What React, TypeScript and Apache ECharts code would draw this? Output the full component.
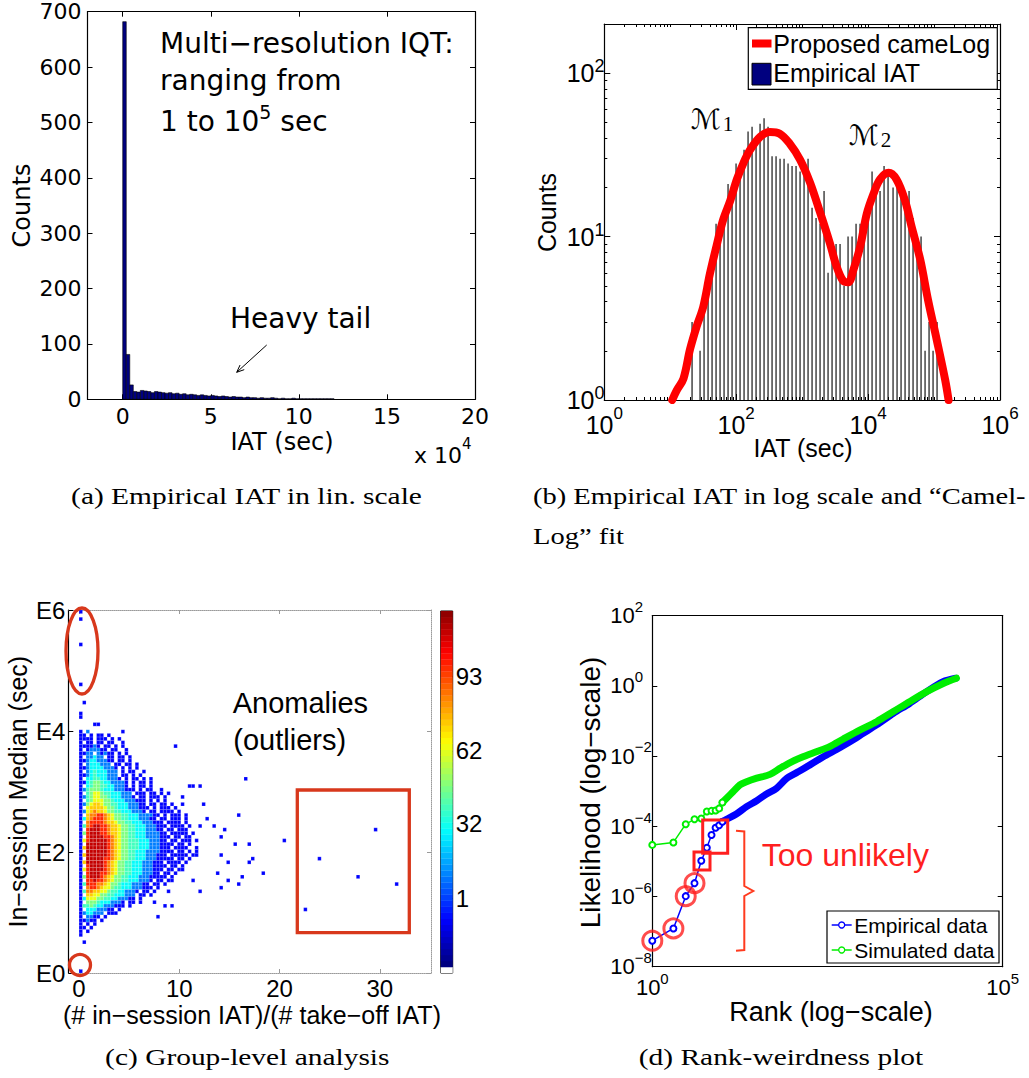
import React, { useEffect, useRef } from 'react';
import * as echarts from 'echarts';

// ---------- (a) inter-arrival times, linear bins (x unit: 10^4 sec) ----------
const linBinWidth = 0.2;
const linCounts = [682, 81, 26, 14, 13, 16, 15, 14, 12, 14, 13, 12, 11, 12, 10, 11, 9, 10, 8, 9, 8, 7, 8, 7, 6, 7, 6, 5, 6, 5, 4, 5, 4, 4, 3, 4, 3, 3, 2, 3, 2, 2, 3, 2, 1, 2, 1, 1, 2, 1, 1, 1, 1, 1, 1, 1, 1, 1, 1, 1];
const linIatTicks = [0, 5, 10, 15, 20];
const linCountTicks = [0, 100, 200, 300, 400, 500, 600, 700];

// ---------- (b) inter-arrival times, log-spaced bins + CamelLog fit ----------
const logBinFirstCenter = 1.33; // log10(sec)
const logBinWidth = 0.0608;
const logCounts = [3, 1, 2, 4, 5, 8, 12, 12, 14, 21, 20, 28, 28, 34, 44, 47, 41, 49, 53, 47, 31, 31, 30, 30, 28, 27, 27, 25, 24, 30, 15, 13, 12, 19, 6, 8, 9, 9, 5, 10, 10, 12, 12, 14, 16, 25, 21, 19, 27, 24, 20, 21, 18, 17, 19, 13, 9, 10, 2, 3, 2, 3];
const fitLogIat = [1.03, 1.1, 1.2, 1.3, 1.4, 1.5, 1.6, 1.7, 1.8, 1.91, 2.01, 2.11, 2.21, 2.36, 2.51, 2.66, 2.81, 2.97, 3.12, 3.27, 3.42, 3.52, 3.62, 3.7, 3.78, 3.88, 3.98, 4.08, 4.18, 4.31, 4.43, 4.56, 4.66, 4.79, 4.91, 5.04, 5.17, 5.22];
const fitLogCount = [0, 0.06, 0.13, 0.31, 0.45, 0.57, 0.77, 0.94, 1.1, 1.22, 1.35, 1.45, 1.53, 1.61, 1.64, 1.63, 1.57, 1.47, 1.33, 1.15, 0.96, 0.82, 0.73, 0.72, 0.8, 0.94, 1.14, 1.26, 1.35, 1.39, 1.35, 1.22, 1.06, 0.86, 0.61, 0.37, 0.12, 0];
const logIatTicks = [0, 2, 4, 6];
const logCountTicks = [0, 1, 2];

// ---------- (c) group-level 2-D histogram ----------
const ratioBin = 0.35; // (# in-session IAT)/(# take-off IAT)
const medianBin = 0.06; // log10(sec)
const heatTopRow = 66;
// one string per median bin, top row first; one character per ratio bin
const heatRows = [
  '1.2.........1',
  '11.1.11.1',
  '1111.111.1.1',
  '1.11.11.11..1',
  '111121.11.1.1',
  '1.122211.11..1',
  '1122.21211.1.1',
  '1.22322.11.11.1',
  '1123322211.11.1',
  '1.2333222.11.11.1',
  '11233332221.1.1.1',
  '1.234333222.1.11..1',
  '11234333222.11.1.1',
  '1.3344332221.1.11.1.1',
  '11345543322221.1.11.1',
  '1.345544332221.1.11.1',
  '1245554333222111.1.11..1',
  '1.4566544333222.111.11.1.1',
  '1245665543332221.11.111.1',
  '1.45666554333222111.1.1.1',
  '1256776554433322211.11.11.1',
  '1.677776554333222111.1.111.1',
  '1267877655443332221.11.1111.1',
  '1.788998765544333222211.1.111.1',
  '1378999876554433322211.11.111.1',
  '1.8999987765544333222111.1111.1',
  '1489XX9987765544333222111.1111.1..1',
  '1.9XXX998776554433322211.11.111',
  '159XXX9987765544333222211.11111.1',
  '1.9XXXX9987655443332222111.11.11',
  '169XXXXX98765544433322211.11.111.1',
  '1.XXXXXX9876554443332221111.11.1',
  '17XXXXXX987655444333222111.1111..1',
  '1.XXXXXX9876554433322221111.11.1.1',
  '17XXXXXX98765544333222111.11111.11',
  '1.XXXXX99876554433322211111.11.1',
  '17XXXXX98765544333222111.1111.1',
  '1.9XXXX987655443332221111.11.1',
  '169XXXX98765544333222111.11.11',
  '1.9XXX99876554433322211.11.1',
  '159XXX9876554433322211111.1',
  '1.99X9987655443332221.11.11',
  '14999887655433322211.11.1',
  '1.8998766544333222111.1',
  '14887766544332221.11.1',
  '1.77665544333222.11.1',
  '1366655443322211.1',
  '1.55543332221.11.1',
  '1445433222111.1',
  '1.33322211.1',
  '1233222.111',
  '1.2211.1',
  '11211.1',
  '1.1.1',
  '11.1',
  '1.1',
  '1',
];
const heatLevels: Record<string, number> = { '1': -9, '2': 9, '3': 28, '4': 37, '5': 46, '6': 62, '7': 72, '8': 83, '9': 96, X: 110 };
// isolated groups: [ratio, log10 median]
const sparseGroups: [number, number][] = [
  [0.1, 5.96], [0.1, 5.85], [0.1, 5.43], [0.1, 4.78], [0.5, 4.47], [0.1, 4.29], [0.1, 4.24], [1.7, 4.11], [2.0, 4.11],
  [9.6, 3.76], [16.6, 3.21], [15.9, 2.61], [20.5, 2.2], [24.0, 1.9], [29.6, 2.37], [27.85, 1.59], [31.7, 1.47], [22.6, 1.06],
  [18.4, 1.66], [17.3, 1.9], [17.0, 1.82], [17.0, 2.13], [15.6, 2.13], [15.95, 1.48], [16.3, 1.6], [14.9, 1.54], [14.95, 1.82],
  [14.2, 1.42], [14.2, 1.95], [13.8, 1.66], [14.0, 2.25], [14.5, 2.37], [13.3, 2.43], [12.7, 2.56], [12.4, 2.8], [12.1, 3.1],
  [11.2, 3.07], [10.9, 3.1], [10.3, 2.93], [10.3, 2.8], [12.1, 1.36], [11.3, 1.54], [9.3, 1.12], [8.6, 1.12], [7.85, 0.94],
  [7.5, 1.18], [9.07, 1.36], [0.5, 0.52], [0.1, 0.05],
];
const ratioTicks = [0, 10, 20, 30];
const medianTicks = [0, 2, 4, 6];
const colorbarTicks = [1, 32, 62, 93];

// ---------- (d) rank vs likelihood ----------
const headRanks = [1, 2, 3, 4, 5, 6, 7, 8, 9, 10];
const empHeadLogLik = [-7.26, -6.91, -5.99, -5.62, -4.98, -4.61, -4.25, -4.04, -3.97, -3.87];
const simHeadLogLik = [-4.53, -4.46, -3.94, -3.8, -3.78, -3.58, -3.56, -3.55, -3.49, -3.32];
const empTailLogRank = [1.0, 1.06, 1.2, 1.345, 1.49, 1.63, 1.77, 1.92, 2.06, 2.25, 2.44, 2.63, 2.82, 3.01, 3.2, 3.44, 3.67, 3.91, 4.15, 4.33];
const empTailLogLik = [-3.87, -3.8, -3.65, -3.44, -3.27, -3.08, -2.92, -2.63, -2.47, -2.25, -2.02, -1.81, -1.59, -1.35, -1.11, -0.78, -0.5, -0.17, 0.12, 0.22];
const simTailLogRank = [1.0, 1.06, 1.155, 1.25, 1.345, 1.49, 1.68, 1.82, 1.96, 2.15, 2.35, 2.53, 2.72, 2.96, 3.2, 3.44, 3.67, 3.91, 4.15, 4.34];
const simTailLogLik = [-3.32, -3.2, -3.01, -2.82, -2.73, -2.63, -2.52, -2.35, -2.19, -2.02, -1.87, -1.73, -1.52, -1.26, -1.02, -0.73, -0.45, -0.17, 0.07, 0.22];
const rankTicks = [0, 5];
const likTicks = [-8, -6, -4, -2, 0, 2];

// ---------- styling ----------
const SANS = 'Liberation Sans, Arial, sans-serif';
const WIDE = 'DejaVu Sans, sans-serif';
const SERIF = 'Liberation Serif, serif';
const ANNOT = '#D8381C';
const RED = '#FF1F1F';

function clamp01(v: number) { return Math.max(0, Math.min(1, v)); }
function jet(t: number) {
  const r = clamp01(1.5 - Math.abs(4 * t - 3));
  const g = clamp01(1.5 - Math.abs(4 * t - 2));
  const b = clamp01(1.5 - Math.abs(4 * t - 1));
  return `rgb(${Math.round(r * 255)},${Math.round(g * 255)},${Math.round(b * 255)})`;
}
const jetColors = Array.from({ length: 64 }, (_, i) => jet(i / 63));

function expLabel(v: number) {
  const e = v < 0 ? '−' + Math.abs(v) : String(v);
  return `{b|10}{s|${e}}`;
}
// base glyph sits at the bottom of a line of height lh, exponent at its top
function expRich(base: number, lh: number, sup: number) {
  return {
    b: { fontSize: base, fontFamily: SANS, color: '#000', lineHeight: lh, verticalAlign: 'bottom' },
    s: { fontSize: sup, fontFamily: SANS, color: '#000', lineHeight: sup, verticalAlign: 'top' },
  };
}

type Ax = {
  grid: number; min: number; max: number; pos: string;
  line?: any; ticks?: number[]; tickLen?: number; tickColor?: string;
  labels?: number[]; fmt?: (v: number) => string; label?: any;
};
function axis(o: Ax): any {
  return {
    type: 'value', gridIndex: o.grid, min: o.min, max: o.max, position: o.pos,
    axisLine: o.line ? { show: true, onZero: false, lineStyle: o.line } : { show: false, onZero: false },
    axisTick: o.ticks
      ? { show: true, inside: true, length: o.tickLen ?? 5, customValues: o.ticks, lineStyle: { color: o.tickColor ?? '#000', width: 1 } }
      : { show: false },
    axisLabel: o.labels
      ? { show: true, customValues: o.labels, formatter: o.fmt, color: '#000', ...o.label }
      : { show: false },
    splitLine: { show: false },
  };
}

const BLACK = { color: '#000', width: 1.2 };
const GRAYDOT = { color: '#9a9a9a', width: 1, type: 'dotted' };

function logMinor(lo: number, hi: number, withDecades: number[]) {
  const out: number[] = [];
  for (let d = Math.floor(lo); d <= hi; d++) {
    for (let k = 2; k <= 9; k++) {
      const v = d + Math.log10(k);
      if (v > lo && v < hi) out.push(v);
    }
  }
  return out.concat(withDecades);
}

function buildOption(): any {
  const grids = [
    { left: 87.5, top: 11.7, width: 387.5, height: 387.6 },
    { left: 604.3, top: 24, width: 395.7, height: 376 },
    { left: 68.3, top: 610, width: 362.7, height: 363 },
    { left: 652.3, top: 615.7, width: 350.4, height: 351 },
    { left: 440.7, top: 611, width: 12, height: 362, show: true, borderColor: '#000', borderWidth: 1, backgroundColor: 'transparent' },
  ];

  const aLabel = { fontSize: 22, fontFamily: WIDE };
  const bMinorX = logMinor(0, 6, [1, 3, 5]);
  const bMinorY = logMinor(0, 2.301, []);

  const xAxis = [
    axis({ grid: 0, min: -2, max: 20, pos: 'bottom', line: BLACK, ticks: linIatTicks, labels: linIatTicks, fmt: (v) => String(v), label: { ...aLabel, margin: 6 } }),
    axis({ grid: 0, min: -2, max: 20, pos: 'top', line: BLACK, ticks: linIatTicks }),
    axis({ grid: 1, min: 0, max: 6, pos: 'bottom', line: BLACK, ticks: logIatTicks, tickLen: 6, labels: logIatTicks, fmt: expLabel, label: { margin: 5, rich: expRich(25, 32.5, 17) } }),
    axis({ grid: 1, min: 0, max: 6, pos: 'top', line: BLACK, ticks: logIatTicks, tickLen: 6 }),
    axis({ grid: 1, min: 0, max: 6, pos: 'bottom', ticks: bMinorX, tickLen: 3 }),
    axis({ grid: 1, min: 0, max: 6, pos: 'top', ticks: bMinorX, tickLen: 3 }),
    axis({ grid: 2, min: -1.07, max: 35.1, pos: 'bottom', line: GRAYDOT, ticks: ratioTicks, tickLen: 4, tickColor: '#9a9a9a', labels: ratioTicks, fmt: (v) => String(v), label: { fontSize: 24, fontFamily: SANS, margin: 3 } }),
    axis({ grid: 2, min: -1.07, max: 35.1, pos: 'top', line: GRAYDOT, ticks: ratioTicks, tickLen: 4, tickColor: '#9a9a9a' }),
    axis({ grid: 3, min: 0, max: 5, pos: 'bottom', line: BLACK, labels: rankTicks, fmt: expLabel, label: { margin: 4.5, rich: expRich(22, 27, 15) } }),
    axis({ grid: 3, min: 0, max: 5, pos: 'top', line: BLACK }),
    axis({ grid: 4, min: 0, max: 1, pos: 'bottom' }),
  ];
  const yAxis = [
    axis({ grid: 0, min: 0, max: 700, pos: 'left', line: BLACK, ticks: linCountTicks, labels: linCountTicks, fmt: (v) => String(v), label: { ...aLabel, margin: 6 } }),
    axis({ grid: 0, min: 0, max: 700, pos: 'right', line: BLACK, ticks: linCountTicks }),
    axis({ grid: 1, min: 0, max: 2.301, pos: 'left', line: BLACK, ticks: logCountTicks, tickLen: 6, labels: logCountTicks, fmt: expLabel, label: { margin: 37.6, align: 'left', padding: [0, 0, 3.5, 0], rich: expRich(25, 28.5, 18) } }),
    axis({ grid: 1, min: 0, max: 2.301, pos: 'right', line: BLACK, ticks: logCountTicks, tickLen: 6 }),
    axis({ grid: 1, min: 0, max: 2.301, pos: 'left', ticks: bMinorY, tickLen: 3 }),
    axis({ grid: 1, min: 0, max: 2.301, pos: 'right', ticks: bMinorY, tickLen: 3 }),
    axis({ grid: 2, min: 0, max: 6, pos: 'left', line: BLACK, ticks: medianTicks, labels: medianTicks, fmt: (v) => 'E' + v, label: { fontSize: 24, fontFamily: SANS, margin: 3 } }),
    axis({ grid: 2, min: 0, max: 6, pos: 'right', line: GRAYDOT, ticks: medianTicks, tickLen: 4, tickColor: '#9a9a9a' }),
    axis({ grid: 3, min: -8, max: 2, pos: 'left', line: BLACK, ticks: likTicks, tickLen: 5, labels: likTicks, fmt: expLabel, label: { margin: 42, align: 'left', padding: [0, 0, 5.7, 0], rich: expRich(22, 27.7, 15) } }),
    axis({ grid: 3, min: -8, max: 2, pos: 'right', line: BLACK, ticks: likTicks, tickLen: 5 }),
    axis({ grid: 4, min: -30, max: 120, pos: 'right', ticks: colorbarTicks, tickLen: 3, labels: colorbarTicks, fmt: (v) => String(v), label: { fontSize: 24, fontFamily: SANS, margin: 3 } }),
  ];

  // cell data for (c)
  const heatData: number[][] = [];
  heatRows.forEach((row, r) => {
    const j = heatTopRow - r;
    for (let i = 0; i < row.length; i++) {
      const lv = heatLevels[row[i]];
      if (lv !== undefined) heatData.push([i * ratioBin, j * medianBin, lv]);
    }
  });
  sparseGroups.forEach(([x, y]) => {
    heatData.push([Math.floor(x / ratioBin) * ratioBin, Math.floor(y / medianBin) * medianBin, heatLevels['1']]);
  });
  // colour scale swatches for the colorbar
  const cbarStep = 2.5;
  const cbarData: number[][] = [];
  for (let v = -30; v < 120 - 1e-6; v += cbarStep) cbarData.push([0, v, v]);

  const series: any[] = [
    {
      type: 'custom', name: 'linHist', xAxisIndex: 0, yAxisIndex: 0, clip: true,
      data: linCounts.map((c, i) => [i * linBinWidth, (i + 1) * linBinWidth, c]),
      encode: { x: [0, 1], y: 2 },
      renderItem: (_p: any, api: any) => {
        const a = api.coord([api.value(0), api.value(2)]);
        const b = api.coord([api.value(1), 0]);
        return { type: 'rect', shape: { x: a[0], y: a[1], width: b[0] - a[0], height: b[1] - a[1] }, style: { fill: '#00007F', stroke: '#000', lineWidth: 0.6 } };
      },
    },
    {
      type: 'custom', name: 'Empirical IAT', xAxisIndex: 2, yAxisIndex: 2, clip: true,
      data: logCounts.map((c, i) => [logBinFirstCenter + i * logBinWidth, Math.log10(c)]),
      renderItem: (_p: any, api: any) => {
        const top = api.coord([api.value(0), api.value(1)]);
        const base = api.coord([api.value(0), 0]);
        const px = Math.round(top[0]);
        return { type: 'rect', shape: { x: px - 0.5, y: top[1], width: 1.1, height: base[1] - top[1] }, style: { fill: '#000' } };
      },
    },
    {
      type: 'line', name: 'Proposed cameLog', xAxisIndex: 2, yAxisIndex: 2, showSymbol: false, smooth: 0.35, clip: true,
      data: fitLogIat.map((x, i) => [x, fitLogCount[i]]),
      lineStyle: { color: '#FF0000', width: 8, cap: 'round', join: 'round' },
      z: 3,
    },
    {
      type: 'custom', name: 'groups', xAxisIndex: 6, yAxisIndex: 6, clip: true,
      data: heatData,
      renderItem: (_p: any, api: any) => {
        const x = api.value(0); const y = api.value(1);
        const a = api.coord([x, y + medianBin]);
        const b = api.coord([x + ratioBin, y]);
        return { type: 'rect', shape: { x: a[0], y: a[1], width: b[0] - a[0], height: b[1] - a[1] }, style: { fill: api.visual('color'), stroke: 'rgba(255,255,255,0.3)', lineWidth: 0.5 } };
      },
    },
    {
      type: 'custom', name: 'colorbar', xAxisIndex: 10, yAxisIndex: 10, clip: true,
      data: cbarData,
      renderItem: (_p: any, api: any) => {
        const v = api.value(1);
        const a = api.coord([0, v + cbarStep]);
        const b = api.coord([1, v]);
        return { type: 'rect', shape: { x: a[0], y: a[1], width: b[0] - a[0], height: b[1] - a[1] + 0.3 }, style: { fill: api.visual('color') } };
      },
    },
    {
      type: 'line', name: 'empTail', xAxisIndex: 8, yAxisIndex: 8, showSymbol: false, smooth: 0.3,
      data: empTailLogRank.map((x, i) => [x, empTailLogLik[i]]),
      lineStyle: { color: '#0000FF', width: 7, cap: 'round' },
    },
    {
      type: 'line', name: 'simTail', xAxisIndex: 8, yAxisIndex: 8, showSymbol: false, smooth: 0.3,
      data: simTailLogRank.map((x, i) => [x, simTailLogLik[i]]),
      lineStyle: { color: '#00EE00', width: 7, cap: 'round' },
    },
    {
      type: 'line', name: 'Empirical data', xAxisIndex: 8, yAxisIndex: 8, symbol: 'emptyCircle', symbolSize: 6,
      data: headRanks.map((r, i) => [Math.log10(r), empHeadLogLik[i]]),
      lineStyle: { color: '#0000FF', width: 1.5 }, itemStyle: { color: '#0000FF', borderWidth: 1.3 },
    },
    {
      type: 'line', name: 'Simulated data', xAxisIndex: 8, yAxisIndex: 8, symbol: 'emptyCircle', symbolSize: 6,
      data: headRanks.map((r, i) => [Math.log10(r), simHeadLogLik[i]]),
      lineStyle: { color: '#00EE00', width: 1.5 }, itemStyle: { color: '#00EE00', borderWidth: 1.3 },
    },
    {
      type: 'scatter', name: 'unlikely', xAxisIndex: 8, yAxisIndex: 8, symbol: 'circle', symbolSize: 19,
      data: headRanks.slice(0, 4).map((r, i) => [Math.log10(r), empHeadLogLik[i]]),
      itemStyle: { color: 'rgba(0,0,0,0)', borderColor: RED, borderWidth: 3 }, z: 5,
    },
  ];

  const txt = (x: number, y: number, text: string, size: number, family: string, opts: any = {}) => ({
    type: 'text', x, y, rotation: opts.rotation ?? 0, scaleX: opts.scaleX ?? 1, z: 100,
    style: {
      text, fontSize: size, fontFamily: family, fill: opts.fill ?? '#000',
      align: opts.align ?? 'left', verticalAlign: 'middle',
      textAlign: opts.align ?? 'left', textVerticalAlign: 'middle',
      rich: opts.rich,
    },
  });

  // arrow for the "Heavy tail" note
  const arS = [266.7, 345];
  const arE = [236.7, 372.3];
  const ang = Math.atan2(arE[1] - arS[1], arE[0] - arS[0]);
  const hl = 8;
  const head = [
    [arE[0] - hl * Math.cos(ang - 0.4), arE[1] - hl * Math.sin(ang - 0.4)],
    [arE[0], arE[1]],
    [arE[0] - hl * Math.cos(ang + 0.4), arE[1] - hl * Math.sin(ang + 0.4)],
  ];

  const graphic: any[] = [
    // (a)
    txt(22, 205.5, 'Counts', 24, WIDE, { rotation: Math.PI / 2, align: 'center' }),
    txt(282, 441.5, 'IAT (sec)', 24, WIDE, { align: 'center' }),
    txt(414, 451, '{b|x 10}{s|4}', 22, WIDE, { rich: { b: { fontSize: 22, fontFamily: WIDE, lineHeight: 30, verticalAlign: 'bottom' }, s: { fontSize: 15, fontFamily: WIDE, lineHeight: 15, verticalAlign: 'top' } } }),
    txt(160, 43.3, 'Multi−resolution IQT:', 28, WIDE),
    txt(160, 80.5, 'ranging from', 28, WIDE),
    txt(160, 119, '{b|1 to 10}{s|5}{b| sec}', 28, WIDE, { rich: { b: { fontSize: 28, fontFamily: WIDE, lineHeight: 33, verticalAlign: 'bottom' }, s: { fontSize: 19, fontFamily: WIDE, lineHeight: 19, verticalAlign: 'top' } } }),
    txt(230, 318.3, 'Heavy tail', 28, WIDE),
    { type: 'line', shape: { x1: arS[0], y1: arS[1], x2: arE[0], y2: arE[1] }, style: { stroke: '#000', lineWidth: 1 }, z: 100 },
    { type: 'polyline', shape: { points: head }, style: { stroke: '#000', lineWidth: 1, fill: 'none' }, z: 100 },

    // (b)
    txt(546.7, 212.5, 'Counts', 25, SANS, { rotation: Math.PI / 2, align: 'center' }),
    txt(803, 447.7, 'IAT (sec)', 25, SANS, { align: 'center' }),
    txt(706, 119, 'ℳ', 28, 'DejaVu Serif, DejaVu Sans, serif', { align: 'center' }),
    txt(728, 124, '1', 21, SERIF, { align: 'center' }),
    txt(864, 135, 'ℳ', 28, 'DejaVu Serif, DejaVu Sans, serif', { align: 'center' }),
    txt(886, 140, '2', 21, SERIF, { align: 'center' }),
    { type: 'rect', shape: { x: 748.3, y: 27.7, width: 249, height: 61.6 }, style: { fill: '#fff', stroke: '#000', lineWidth: 1.2 }, z: 90 },
    { type: 'line', shape: { x1: 752, y1: 43.5, x2: 771.5, y2: 43.5 }, style: { stroke: '#FF0000', lineWidth: 8 }, z: 100 },
    { type: 'rect', shape: { x: 752, y: 63.3, width: 19, height: 21.7 }, style: { fill: '#00007F', stroke: '#000', lineWidth: 1 }, z: 100 },
    txt(773.3, 44.2, 'Proposed cameLog', 25, SANS),
    txt(773.3, 73.2, 'Empirical IAT', 25, SANS),

    // (c)
    txt(17.5, 791.7, 'In−session Median (sec)', 25, SANS, { rotation: Math.PI / 2, align: 'center' }),
    txt(252, 1015, '(# in−session IAT)/(# take−off IAT)', 25, SANS, { align: 'center' }),
    txt(232.7, 703, 'Anomalies', 29, SANS),
    txt(233.3, 740, '(outliers)', 29, SANS),
    { type: 'ellipse', shape: { cx: 82, cy: 651, rx: 16, ry: 43 }, style: { fill: 'none', stroke: ANNOT, lineWidth: 3.3 }, z: 100 },
    { type: 'circle', shape: { cx: 80, cy: 965, r: 10.5 }, style: { fill: 'none', stroke: ANNOT, lineWidth: 3.3 }, z: 100 },
    { type: 'rect', shape: { x: 297.3, y: 790, width: 112, height: 142.7 }, style: { fill: 'none', stroke: ANNOT, lineWidth: 3.3 }, z: 100 },

    // (d)
    txt(590, 792.5, 'Likelihood (log−scale)', 28, SANS, { rotation: Math.PI / 2, align: 'center' }),
    txt(831, 1012, 'Rank (log−scale)', 27, SANS, { align: 'center' }),
    txt(761.7, 855, 'Too unlikely', 32, SANS, { fill: RED }),
    { type: 'rect', shape: { x: 694, y: 852, width: 16, height: 18 }, style: { fill: 'none', stroke: RED, lineWidth: 3 }, z: 100 },
    { type: 'rect', shape: { x: 702.7, y: 820, width: 25, height: 33.3 }, style: { fill: 'none', stroke: RED, lineWidth: 3 }, z: 100 },
    { type: 'polyline', shape: { points: [[736, 830.7], [744.3, 831.5], [744.3, 886], [753.3, 891], [744.3, 896], [744.3, 950], [736, 950.7]] }, style: { stroke: '#FF3B1F', lineWidth: 2, fill: 'none' }, z: 100 },
    { type: 'rect', shape: { x: 827, y: 911, width: 172, height: 52 }, style: { fill: '#fff', stroke: '#000', lineWidth: 1.2 }, z: 90 },
    { type: 'line', shape: { x1: 831.7, y1: 925, x2: 851.7, y2: 925 }, style: { stroke: '#0000FF', lineWidth: 1.5 }, z: 100 },
    { type: 'circle', shape: { cx: 841.7, cy: 925, r: 3 }, style: { fill: '#fff', stroke: '#0000FF', lineWidth: 1.3 }, z: 101 },
    { type: 'line', shape: { x1: 831.7, y1: 950, x2: 851.7, y2: 950 }, style: { stroke: '#00EE00', lineWidth: 1.5 }, z: 100 },
    { type: 'circle', shape: { cx: 841.7, cy: 950, r: 3 }, style: { fill: '#fff', stroke: '#00EE00', lineWidth: 1.3 }, z: 101 },
    txt(854.3, 925.3, 'Empirical data', 21, SANS),
    txt(854.3, 950.8, 'Simulated data', 21, SANS),

    // captions
    txt(246.5, 496.5, '(a) Empirical IAT in lin. scale', 23, SERIF, { align: 'center', scaleX: 1.28 }),
    txt(533, 496.5, '(b) Empirical IAT in log scale and “Camel-', 23, SERIF, { scaleX: 1.24 }),
    txt(533, 536.5, 'Log” fit', 23, SERIF, { scaleX: 1.24 }),
    txt(247.3, 1057, '(c) Group-level analysis', 23, SERIF, { align: 'center', scaleX: 1.28 }),
    txt(781, 1057, '(d) Rank-weirdness plot', 23, SERIF, { align: 'center', scaleX: 1.28 }),
  ];

  return {
    animation: false,
    backgroundColor: '#fff',
    grid: grids,
    xAxis,
    yAxis,
    visualMap: {
      type: 'continuous', show: false, min: -30, max: 120, dimension: 2, seriesIndex: [3, 4],
      inRange: { color: ['#ffffff', ...jetColors] },
    },
    series,
    graphic,
  };
}

export default function App() {
  const ref = useRef<HTMLDivElement>(null);
  useEffect(() => {
    if (!ref.current) return;
    const chart = echarts.init(ref.current, undefined, { renderer: 'svg' });
    chart.setOption(buildOption());
    return () => chart.dispose();
  }, []);
  return <div ref={ref} style={{ position: 'absolute', left: 0, top: 0, width: 1029, height: 1078, background: '#fff' }} />;
}
